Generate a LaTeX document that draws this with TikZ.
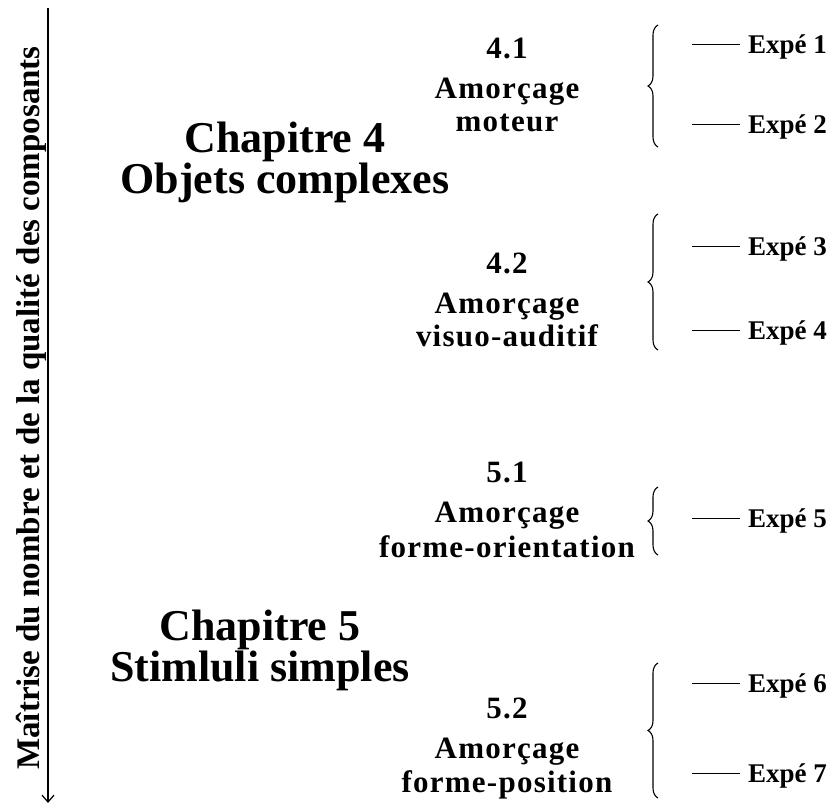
\documentclass[tikz,border=0pt]{standalone}
\usepackage{fontspec}
\setmainfont{Liberation Serif}
\newfontfamily\spacedfont[LetterSpace=4]{Liberation Serif}
\usetikzlibrary{decorations.pathreplacing,arrows.meta}
\begin{document}
\begin{tikzpicture}[x=1pt,y=-1pt,
  chap/.style={font=\bfseries\fontsize{44}{36}\selectfont, inner sep=0pt, align=center, anchor=center},
  sec/.style={font=\spacedfont\bfseries\fontsize{31}{31}\selectfont, inner sep=0pt, anchor=base},
  expe/.style={font=\bfseries\fontsize{27}{27}\selectfont, inner sep=0pt, anchor=base west},
  axislabel/.style={font=\bfseries\fontsize{33}{33}\selectfont, inner sep=0pt, anchor=base, rotate=90},
  axis/.style={line width=1.4pt, -{Straight Barb[length=7pt,width=12pt,line width=1.2pt]}},
  bracestyle/.style={line width=1.1pt, decorate, decoration={brace, amplitude=10pt}},
  tick/.style={line width=1pt}]
\useasboundingbox (0,0) rectangle (835,810);

% axis
\coordinate (atop) at (48,8);
\coordinate (abot) at (48,803);
\draw[axis] (atop) -- (abot);
\node[axislabel] (alab) at (39,408) {Maîtrise du nombre et de la qualité des composants};

% chapter titles
\node[chap] (c4) at (285,162) {Chapitre 4\\Objets complexes};
\node[chap] (c5) at (260,650) {Chapitre 5\\Stimluli simples};

% sections
\node[sec] (s41n) at (507,59) {4.1};
\node[sec] (s41a) at (507,99) {Amorçage};
\node[sec] (s41b) at (507,132) {moteur};

\node[sec] (s42n) at (507,273) {4.2};
\node[sec] (s42a) at (507,313) {Amorçage};
\node[sec] (s42b) at (507,346) {visuo-auditif};

\node[sec] (s51n) at (507,482) {5.1};
\node[sec] (s51a) at (507,522) {Amorçage};
\node[sec] (s51b) at (507,557) {forme-orientation};

\node[sec] (s52n) at (507,718) {5.2};
\node[sec] (s52a) at (507,758) {Amorçage};
\node[sec] (s52b) at (507,792) {forme-position};

% braces
\coordinate (b1t) at (658,25);  \coordinate (b1b) at (658,147);
\coordinate (b2t) at (658,214); \coordinate (b2b) at (658,350);
\coordinate (b3t) at (658,487); \coordinate (b3b) at (658,555);
\coordinate (b4t) at (658,663); \coordinate (b4b) at (658,798);
\draw[bracestyle] (b1b) -- (b1t);
\draw[bracestyle] (b2b) -- (b2t);
\draw[bracestyle] (b3b) -- (b3t);
\draw[bracestyle] (b4b) -- (b4t);

% experiments
\foreach \n/\y in {1/45,2/125,3/247,4/330,5/518,6/683,7/773}{
  \coordinate (l\n) at (692,\y);
  \node[expe] (e\n) at (748,\y+9) {Expé \n};
  \draw[tick] (l\n) -- ([xshift=-8pt]e\n.west |- l\n);
}
\end{tikzpicture}
\end{document}
